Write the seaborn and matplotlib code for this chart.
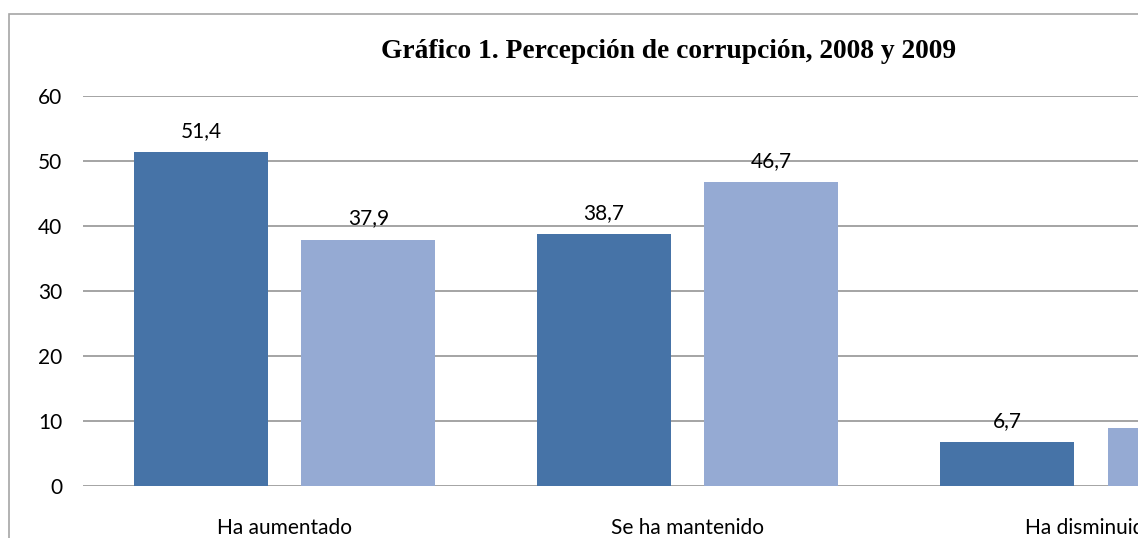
import pandas as pd
import matplotlib
matplotlib.use("Agg")
import matplotlib.pyplot as plt
import matplotlib.patches as patches
import seaborn as sns

# values
categories = ["Ha aumentado", "Se ha mantenido", "Ha disminuido"]
years = ["2008", "2009"]
vals_2008 = [51.4, 38.7, 6.7]
vals_2009 = [37.9, 46.7, 8.9]
yticks = [0, 10, 20, 30, 40, 50, 60]

df = pd.DataFrame({
    "cat": categories * 2,
    "year": [years[0]] * 3 + [years[1]] * 3,
    "val": vals_2008 + vals_2009,
})

sns.set_theme(style="white")
plt.rcParams["font.family"] = ["Lato", "DejaVu Sans"]

fig = plt.figure(figsize=(11.38, 5.38), dpi=100)
W, H = 1138, 538
# axes runs past the right edge, the original chart is cropped there
ax = fig.add_axes([83 / W, 1 - 486 / H, (1292.5 - 83) / W, (486 - 96) / H])

sns.barplot(data=df, x="cat", y="val", hue="year", order=categories,
            palette=["#4673a7", "#95aad3"], width=0.83, gap=0.2,
            legend=False, ax=ax, saturation=1, linewidth=0)

for cont in ax.containers:
    ax.bar_label(cont, labels=[f"{v:.1f}".replace(".", ",") for v in cont.datavalues],
                 padding=8, fontsize=15, color="#000000")

ax.set_ylim(0, 60)
ax.set_yticks(yticks)
ax.set_xlim(-0.5, 2.5)
ax.yaxis.grid(True, color="#8c8c8c", linewidth=1.1)
ax.set_axisbelow(True)
for s in ax.spines.values():
    s.set_visible(False)
ax.tick_params(axis="y", length=0, pad=15, labelsize=15, labelcolor="#000000")
ax.tick_params(axis="x", length=0, pad=23, labelsize=15, labelcolor="#000000")
ax.set_xlabel("")
ax.set_ylabel("")

fig.text(669 / W, 1 - 52 / H, "Gráfico 1. Percepción de corrupción, 2008 y 2009",
         ha="center", va="center", fontsize=19.8, fontweight="bold", color="#000000",
         family=["Liberation Serif", "DejaVu Serif"])

# outer chart border (only left and top show in the crop)
border = patches.Rectangle((9 / W, -0.2), 1.5, 1.2 - 14 / H,
                           transform=fig.transFigure, fill=False,
                           edgecolor="#a6a6a6", linewidth=1.2, clip_on=False)
fig.add_artist(border)

fig.savefig("out.png", dpi=100)
